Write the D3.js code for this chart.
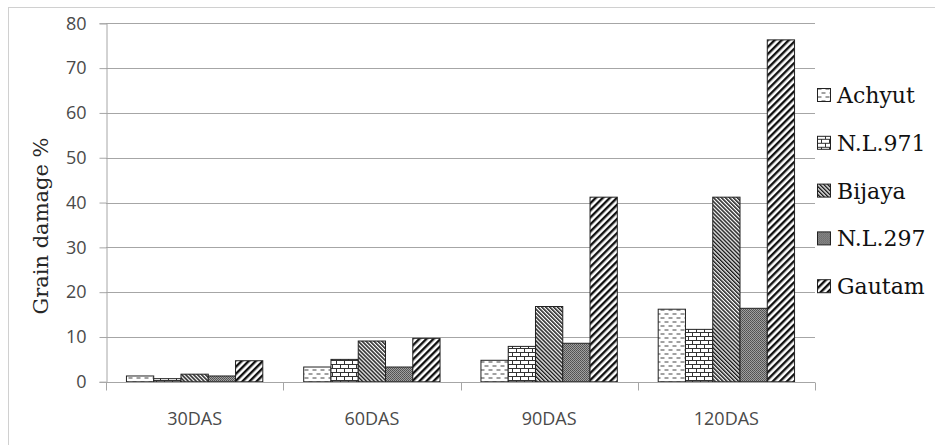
<!DOCTYPE html>
<html>
<head>
<meta charset="utf-8">
<script src="https://cdn.jsdelivr.net/npm/d3@7/dist/d3.min.js"></script>
<style>
  html, body { margin: 0; padding: 0; background: #fff; }
  svg { display: block; }
</style>
</head>
<body>
<svg id="chart" width="935" height="445"></svg>
<script>
const categories = ["30DAS", "60DAS", "90DAS", "120DAS"];
const seriesNames = ["Achyut", "N.L.971", "Bijaya", "N.L.297", "Gautam"];
const achyut = [1.3, 3.3, 4.8, 16.2];
const nl971  = [0.7, 5.0, 7.9, 11.7];
const bijaya = [1.7, 9.1, 16.8, 41.2];
const nl297  = [1.3, 3.3, 8.6, 16.4];
const gautam = [4.7, 9.7, 41.2, 76.3];
const yTicks = [0, 10, 20, 30, 40, 50, 60, 70, 80];
const yTitle = "Grain damage %";

const seriesValues = [achyut, nl971, bijaya, nl297, gautam];
const patternIds = ["pAchyut", "pNL971", "pBijaya", "pNL297", "pGautam"];

const svg = d3.select("#chart");
const defs = svg.append("defs");

// Achyut: staggered dashes
let p = defs.append("pattern").attr("id", "pAchyut").attr("patternUnits", "userSpaceOnUse")
  .attr("width", 8).attr("height", 8);
p.append("rect").attr("width", 8).attr("height", 8).attr("fill", "#fff");
p.append("rect").attr("x", 0.5).attr("y", 1.5).attr("width", 4).attr("height", 1).attr("fill", "#444");
p.append("rect").attr("x", 4.5).attr("y", 5.5).attr("width", 4).attr("height", 1).attr("fill", "#444");
p.append("rect").attr("x", -3.5).attr("y", 5.5).attr("width", 4).attr("height", 1).attr("fill", "#444");

// N.L.971: bricks
p = defs.append("pattern").attr("id", "pNL971").attr("patternUnits", "userSpaceOnUse")
  .attr("width", 8).attr("height", 8);
p.append("rect").attr("width", 8).attr("height", 8).attr("fill", "#fff");
p.append("rect").attr("x", 0).attr("y", 0).attr("width", 8).attr("height", 1).attr("fill", "#333");
p.append("rect").attr("x", 0).attr("y", 4).attr("width", 8).attr("height", 1).attr("fill", "#333");
p.append("rect").attr("x", 0).attr("y", 0).attr("width", 1).attr("height", 4).attr("fill", "#333");
p.append("rect").attr("x", 4).attr("y", 4).attr("width", 1).attr("height", 4).attr("fill", "#333");

// Bijaya: dense backslash stripes
p = defs.append("pattern").attr("id", "pBijaya").attr("patternUnits", "userSpaceOnUse")
  .attr("width", 2.8).attr("height", 10).attr("patternTransform", "rotate(-45)");
p.append("rect").attr("width", 2.8).attr("height", 10).attr("fill", "#fff");
p.append("rect").attr("width", 1.5).attr("height", 10).attr("fill", "#1a1a1a");

// N.L.297: dotted gray
p = defs.append("pattern").attr("id", "pNL297").attr("patternUnits", "userSpaceOnUse")
  .attr("width", 2).attr("height", 2);
p.append("rect").attr("width", 2).attr("height", 2).attr("fill", "#a0a0a0");
p.append("rect").attr("x", 0).attr("y", 0).attr("width", 1).attr("height", 1).attr("fill", "#505050");
p.append("rect").attr("x", 1).attr("y", 1).attr("width", 1).attr("height", 1).attr("fill", "#5a5a5a");

// Gautam: wide slash stripes
p = defs.append("pattern").attr("id", "pGautam").attr("patternUnits", "userSpaceOnUse")
  .attr("width", 5).attr("height", 10).attr("patternTransform", "rotate(45)");
p.append("rect").attr("width", 5).attr("height", 10).attr("fill", "#fff");
p.append("rect").attr("width", 2.4).attr("height", 10).attr("fill", "#111");

// Outer frame
svg.append("rect").attr("x", 8.5).attr("y", 7.5).attr("width", 940).attr("height", 450)
  .attr("fill", "#fff").attr("stroke", "#d0d0d0").attr("stroke-width", 1);

const plotLeft = 106, plotRight = 815, plotTop = 23.3, plotBottom = 381.8;

const x0 = d3.scaleBand().domain(categories).range([plotLeft, plotRight]).paddingInner(0).paddingOuter(0);
const x1 = d3.scaleBand().domain(seriesNames).range([0, x0.bandwidth()]).paddingInner(0).paddingOuter(0.75);
const y = d3.scaleLinear().domain([0, 80]).range([plotBottom, plotTop]);

// gridlines
svg.append("g").selectAll("line").data(yTicks.filter(d => d > 0)).join("line")
  .attr("x1", plotLeft).attr("x2", plotRight)
  .attr("y1", d => Math.round(y(d)) + 0.5).attr("y2", d => Math.round(y(d)) + 0.5)
  .attr("stroke", "#a6a6a6").attr("stroke-width", 1);

// y axis
const yAxis = svg.append("g").attr("transform", `translate(${plotLeft + 0.5},0)`)
  .call(d3.axisLeft(y).tickValues(yTicks).tickSize(7).tickPadding(13).tickFormat(d3.format("d")));
yAxis.select(".domain").attr("stroke", "#a6a6a6");
yAxis.selectAll(".tick line").attr("stroke", "#a6a6a6");
yAxis.selectAll(".tick text").attr("fill", "#4a4a4a")
  .style("font-family", "'Open Sans', sans-serif").style("font-size", "18px");

// bars
const groups = svg.append("g").selectAll("g").data(seriesNames).join("g");
groups.each(function(name, si) {
  d3.select(this).selectAll("rect").data(seriesValues[si]).join("rect")
    .attr("x", (d, ci) => x0(categories[ci]) + x1(name))
    .attr("y", d => y(d))
    .attr("width", x1.bandwidth())
    .attr("height", d => y(0) - y(d))
    .attr("fill", `url(#${patternIds[si]})`)
    .attr("stroke", "#222").attr("stroke-width", 1);
});

// x axis
const xAxisG = svg.append("g").attr("transform", `translate(0,${Math.round(plotBottom) + 0.5})`);
xAxisG.append("line").attr("x1", plotLeft).attr("x2", plotRight).attr("y1", 0).attr("y2", 0)
  .attr("stroke", "#a6a6a6");
const boundaries = categories.map(c => x0(c)).concat([x0(categories[categories.length - 1]) + x0.bandwidth()]);
xAxisG.selectAll("line.bt").data(boundaries).join("line").attr("class", "bt")
  .attr("x1", d => Math.round(d) + 0.5).attr("x2", d => Math.round(d) + 0.5)
  .attr("y1", 0).attr("y2", 8).attr("stroke", "#a6a6a6");
xAxisG.selectAll("text").data(categories).join("text")
  .attr("x", d => x0(d) + x0.bandwidth() / 2)
  .attr("y", 42)
  .attr("text-anchor", "middle")
  .attr("fill", "#4a4a4a")
  .style("font-family", "'Open Sans', sans-serif").style("font-size", "18px")
  .text(d => d);

// y title
svg.append("text")
  .attr("transform", "translate(48,226) rotate(-90)")
  .attr("text-anchor", "middle")
  .attr("fill", "#262626")
  .style("font-family", "'DejaVu Serif', serif").style("font-size", "21px")
  .text(yTitle);

// legend
const legend = svg.append("g").selectAll("g").data(seriesNames).join("g")
  .attr("transform", (d, i) => `translate(817,${103 + i * 47.8})`);
legend.append("rect").attr("x", 0.5).attr("y", -14.5).attr("width", 13).attr("height", 13)
  .attr("fill", (d, i) => `url(#${patternIds[i]})`).attr("stroke", "#222");
legend.append("text").attr("x", 20).attr("y", 0)
  .attr("fill", "#111")
  .style("font-family", "'DejaVu Serif', serif").style("font-size", "22px")
  .text(d => d);
</script>
</body>
</html>
